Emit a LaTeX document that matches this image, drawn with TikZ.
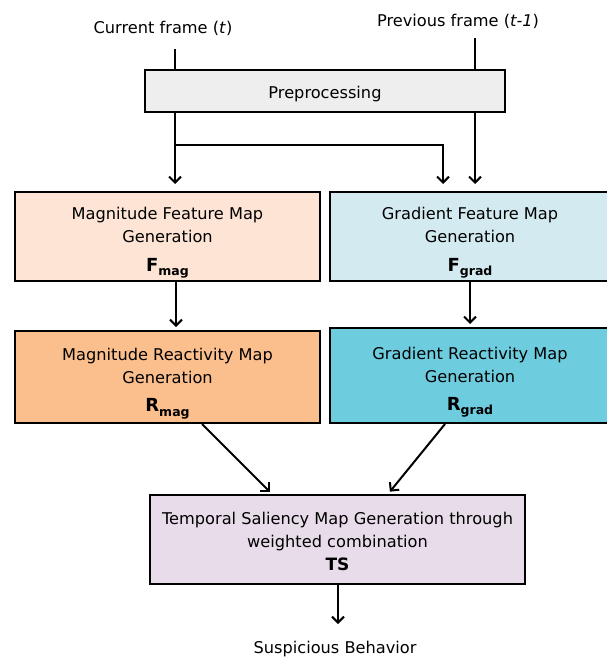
\documentclass[tikz,border=0pt]{standalone}
\usepackage{fontspec}
\setmainfont{DejaVu Sans}
\usetikzlibrary{arrows.meta,positioning}
\definecolor{prefill}{HTML}{EEEEEE}
\definecolor{magf}{HTML}{FDE4D4}
\definecolor{gradf}{HTML}{D3EBF0}
\definecolor{magr}{HTML}{FBBF8E}
\definecolor{gradr}{HTML}{6DCDDF}
\definecolor{tsf}{HTML}{E8DCEA}
\newcommand{\symb}[2]{{\fontsize{18}{18}\selectfont\bfseries #1}\raisebox{-4.5pt}{\fontsize{12.5}{12.5}\selectfont\bfseries #2}}
\newcommand{\tstrut}[1]{\rule{0pt}{#1}}
\begin{document}
\begin{tikzpicture}[x=1pt,y=-1pt,
  box/.style={draw=black, line width=2pt, align=center, inner sep=0pt, font=\fontsize{16.2}{23}\selectfont},
  lbl/.style={font=\fontsize{16.2}{18}\selectfont, inner sep=0pt},
  arr/.style={line width=2pt, -{Straight Barb[length=6pt,width=12pt,line width=2pt]}},
  ln/.style={line width=2pt}]
\useasboundingbox (0,0) rectangle (607,658);
\begin{scope}
\clip (0,0) rectangle (607,658);
\node[lbl] (cur) at (163,28) {Current frame (\textit{t})};
\node[lbl] (prev) at (458,21) {Previous frame (\textit{t-1})};
\node[box, fill=prefill, minimum width=360pt, minimum height=42pt] (pre) at (325,91) {\tstrut{18pt}Preprocessing};
\node[box, fill=magf, minimum width=305pt, minimum height=89pt] (mf) at (167.5,236.5) {\tstrut{25pt}Magnitude Feature Map\\Generation\\[6pt]\symb{F}{mag}};
\node[box, fill=gradf, minimum width=280pt, minimum height=89pt] (gf) at (470,236.5) {\tstrut{25pt}Gradient Feature Map\\Generation\\[6pt]\symb{F}{grad}};
\node[box, fill=magr, minimum width=305pt, minimum height=92pt] (mr) at (167.5,377) {\tstrut{26pt}Magnitude Reactivity Map\\Generation\\[5pt]\symb{R}{mag}};
\node[box, fill=gradr, minimum width=280pt, minimum height=95pt] (gr) at (470,375.5) {\tstrut{26pt}Gradient Reactivity Map\\Generation\\[5pt]\symb{R}{grad}};
\node[box, fill=tsf, minimum width=375pt, minimum height=89pt] (ts) at (337.5,539.5) {\tstrut{17pt}Temporal Saliency Map Generation through\\weighted combination\\[0pt]{\fontsize{17}{17}\selectfont\bfseries TS}};
\node[lbl] (out) at (335,649) {Suspicious Behavior};
\coordinate (cin) at (175,49);
\coordinate (pin) at (475,38);
\coordinate (br) at (175,145);
\end{scope}
\draw[ln] (cin) -- (cin |- pre.north);
\draw[ln] (pin) -- (pin |- pre.north);
\draw[arr, shorten >=7pt] (pre.south -| cin) -- (mf.north -| cin);
\draw[arr, shorten >=7pt] (br) -| (gf.north -| 443,0);
\draw[arr, shorten >=7pt] (pre.south -| pin) -- (gf.north -| pin);
\draw[arr, shorten >=3pt] (mf.south -| 176,0) -- (mr.north -| 176,0);
\draw[arr, shorten >=3pt] (gf.south -| 470,0) -- (gr.north -| 470,0);
\draw[arr, shorten >=3pt] (mr.south -| 202,0) -- (ts.north -| 272,0);
\draw[arr, shorten >=3pt] (gr.south -| 445,0) -- (ts.north -| 388,0);
\draw[arr] (ts.south -| 338,0) -- (338,624);
\end{tikzpicture}
\end{document}
